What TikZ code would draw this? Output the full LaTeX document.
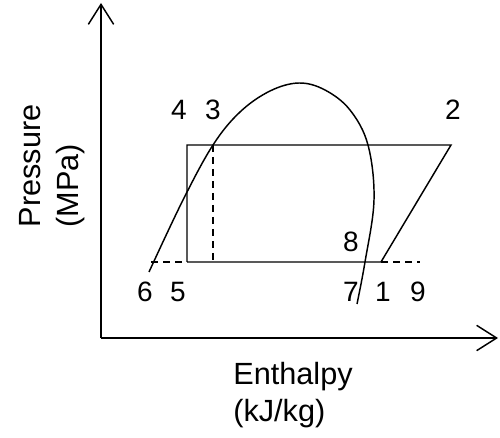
\documentclass[tikz,border=0pt]{standalone}
\usepackage{fontspec}
\setmainfont{Liberation Sans}
\usetikzlibrary{arrows.meta}

\begin{document}
\begin{tikzpicture}[x=0.75pt, y=-0.75pt, line width=1.1pt,
    state/.style={inner sep=0pt, font=\fontsize{21}{25}\selectfont},
    axislabel/.style={align=left, inner sep=0pt, font=\fontsize{23}{28}\selectfont},
    guide/.style={dashed, dash pattern=on 5.5pt off 3.5pt}]
    \useasboundingbox (0,0) rectangle (500,438);

    % State points
    \coordinate (p4) at (187,145);
    \coordinate (p3) at (213,145);
    \coordinate (p2) at (451,145);
    \coordinate (p6) at (151,262);
    \coordinate (p5) at (187,262);
    \coordinate (p3b) at (213,262);
    \coordinate (p1) at (381,262);
    \coordinate (p9) at (420,262);

    % Axis
    \coordinate (origin) at (101,338);
    \coordinate (ytop) at (101,3);
    \coordinate (xend) at (498,338);
    \draw[-{Straight Barb[length=15pt, width=19pt]}] (origin) -- (ytop);
    \draw[-{Straight Barb[length=15pt, width=19pt]}] (origin) -- (xend);

    % Saturation dome
    \draw plot[smooth, tension=0.6] coordinates {(149,272) (183,200) (213,145) (240,112) (270,91) (299,83) (325,90) (350,110) (368,145) (374,200) (365,262) (357,304)};

    % Cycle
    \draw (p5) -- (p4) -- (p2) -- (p1) -- (p5);
    \draw[guide] (p6) -- (p5);
    \draw[guide] (p1) -- (p9);
    \draw[guide] (p3) -- (p3b);

    % Labels
    \node[state] (l4) at (179,110) {4};
    \node[state] (l3) at (213,110) {3};
    \node[state] (l2) at (453,110) {2};
    \node[state] (l8) at (351,242) {8};
    \node[state] (l6) at (145,292) {6};
    \node[state] (l5) at (178,292) {5};
    \node[state] (l7) at (351,292) {7};
    \node[state] (l1) at (383,292) {1};
    \node[state] (l9) at (418,292) {9};

    \node[axislabel, rotate=90] (ylab) at (52,166) {Pressure\\(MPa)};
    \node[axislabel] (xlab) at (293,395) {Enthalpy\\(kJ/kg)};
\end{tikzpicture}
\end{document}
